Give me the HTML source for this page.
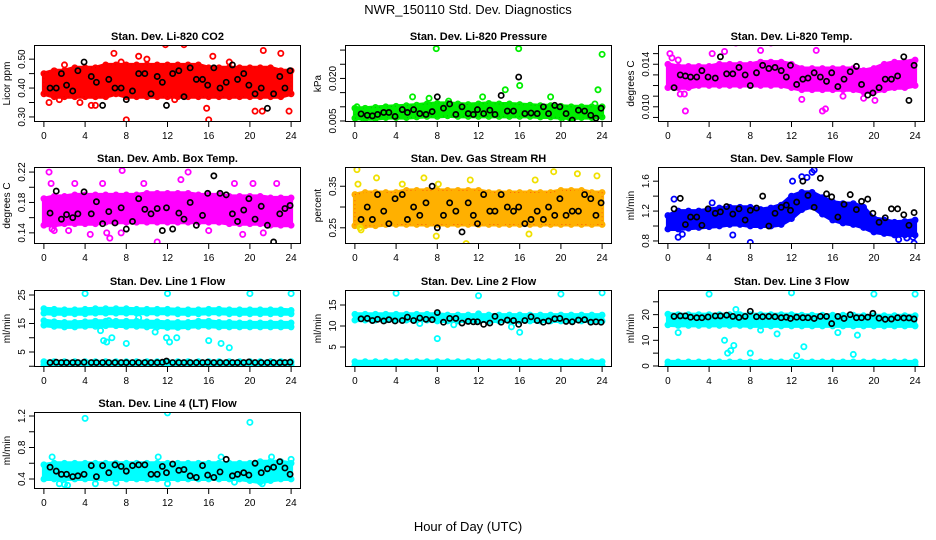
<!DOCTYPE html>
<html><head><meta charset="utf-8">
<style>
html,body{margin:0;padding:0;background:#fff;}
svg{display:block;font-family:"Liberation Sans",Arial,sans-serif;}
</style></head>
<body>
<svg id="chart" width="936" height="540" viewBox="0 0 936 540">
<text x="468" y="14" text-anchor="middle" font-size="13">NWR_150110  Std. Dev. Diagnostics</text>
<text x="468" y="531" text-anchor="middle" font-size="13">Hour of Day (UTC)</text>
</svg>
<script>
const blackHours = [0.6,1.2,1.7,2.2,2.8,3.3,3.9,4.6,5.1,5.7,6.3,6.9,7.5,8.0,8.6,9.2,9.8,10.4,11.0,11.5,11.9,12.5,13.1,13.6,14.2,14.8,15.4,15.9,16.5,17.1,17.7,18.3,18.8,19.4,19.9,20.5,21.1,21.7,22.3,22.9,23.4,23.9];
const bandHours = [0,1,2,3,4,5,6,7,8,9,10,11,12,13,14,15,16,17,18,19,20,21,22,23,24];
const xTicks = [0,4,8,12,16,20,24];

const co2Black = [.40,.40,.45,.41,.39,.46,.49,.44,.42,.34,.43,.40,.40,.36,.39,.45,.45,.38,.44,.42,.34,.45,.46,.37,.47,.43,.43,.41,.47,.40,.42,.48,.43,.45,.41,.38,.40,.33,.38,.44,.40,.46];
const co2Lo = [.38,.37,.37,.37,.37,.37,.37,.38,.37,.37,.37,.37,.37,.37,.37,.37,.37,.37,.37,.37,.37,.37,.37,.37,.38];
const co2Hi = [.45,.46,.46,.47,.47,.47,.48,.48,.48,.48,.48,.48,.48,.48,.48,.48,.47,.47,.47,.47,.47,.47,.47,.46,.46];
const co2OutX = [0.5,2,3.5,4.6,5,6.8,8,9.2,11.8,13.6,15.8,16,16.4,20.5,21.2,21.3,23,23.8,7.5,10,18,1.5,12.7];
const co2OutY = [.35,.48,.35,.34,.34,.52,.29,.51,.55,.55,.33,.29,.51,.32,.32,.53,.52,.32,.49,.50,.49,.36,.36];

const presBlack = [.0075,.0070,.0068,.0073,.0080,.0080,.0066,.0090,.0080,.0090,.0076,.0073,.0083,.0135,.0095,.0110,.0073,.0100,.0076,.0073,.0090,.0076,.0088,.0073,.0140,.0085,.0085,.0205,.0076,.0078,.0076,.0100,.0076,.0105,.0100,.0076,.0053,.0088,.0085,.0070,.0060,.0095];
const presLo = [.0060,.0058,.0058,.0062,.0062,.0062,.0064,.0066,.0066,.0068,.0066,.0066,.0066,.0066,.0066,.0066,.0066,.0066,.0064,.0064,.0062,.0060,.0062,.0062,.0064];
const presHi = [.0095,.0095,.0098,.0100,.0102,.0104,.0106,.0110,.0112,.0112,.0110,.0108,.0110,.0112,.0110,.0110,.0108,.0106,.0104,.0104,.0102,.0100,.0100,.0100,.0100];
const presOutX = [0.2,0.4,5.6,7.9,12.4,14.6,15.9,16,19,20.5,21,23.3,23.6,24,7.2,9.1];
const presOutY = [.0100,.0048,.0135,.0305,.0135,.0160,.0305,.0175,.0135,.0050,.0050,.0110,.0160,.0285,.0130,.0120];

const tempBlack = [.0118,.0130,.0129,.0128,.0128,.0134,.0128,.0127,.0147,.0131,.0131,.0137,.0130,.0120,.0132,.0139,.0136,.0137,.0134,.0128,.0139,.0121,.0126,.0127,.0132,.0128,.0124,.0132,.0119,.0126,.0133,.0138,.0121,.0111,.0113,.0118,.0126,.0126,.0129,.0147,.0106,.0139];
const tempLo = [.0118,.0118,.0118,.0120,.0120,.0120,.0120,.0120,.0120,.0120,.0120,.0120,.0118,.0116,.0116,.0116,.0116,.0116,.0116,.0114,.0114,.0116,.0118,.0118,.0120];
const tempHi = [.0140,.0138,.0138,.0138,.0138,.0140,.0140,.0140,.0140,.0142,.0142,.0142,.0140,.0136,.0136,.0136,.0136,.0136,.0136,.0134,.0136,.0140,.0142,.0142,.0144];
const tempOutX = [0.2,0.4,1.0,1.6,1.7,4.3,5.5,6.6,9.0,9.9,10.0,13.0,14.4,15.0,15.3,19.0,20.1,17.0,1.2];
const tempOutY = [.0150,.0146,.0144,.0112,.0096,.0150,.0152,.0160,.0153,.0165,.0160,.0107,.0153,.0096,.0098,.0108,.0106,.0110,.0112];

const ambBlack = [.166,.195,.158,.164,.160,.165,.194,.165,.181,.152,.168,.153,.173,.145,.155,.185,.171,.165,.172,.143,.173,.145,.166,.158,.180,.150,.163,.192,.215,.192,.190,.165,.155,.170,.185,.158,.175,.150,.128,.165,.172,.176];
const ambLo = [.150,.150,.152,.152,.152,.152,.154,.154,.154,.154,.154,.154,.154,.154,.154,.154,.154,.154,.152,.152,.152,.152,.150,.150,.150];
const ambHi = [.185,.188,.188,.190,.190,.190,.190,.190,.190,.190,.192,.192,.192,.192,.192,.190,.190,.190,.188,.188,.188,.188,.186,.186,.186];
const ambOutX = [0.5,0.7,0.8,1.0,3.0,4.5,5.7,6.4,7.6,9.7,11.0,13.3,14.0,16.0,18.5,20.3,22.6,2.4,6.1,7.5,19.3,21.3];
const ambOutY = [.220,.205,.145,.143,.205,.138,.205,.133,.222,.205,.128,.210,.220,.143,.205,.205,.205,.143,.140,.140,.138,.140];

const rhBlack = [.27,.30,.27,.33,.29,.26,.32,.33,.27,.30,.28,.31,.35,.25,.28,.31,.29,.24,.31,.28,.26,.33,.29,.29,.33,.30,.29,.30,.26,.27,.29,.27,.30,.28,.32,.28,.29,.29,.33,.32,.28,.31];
const rhLo = [.255,.255,.255,.258,.258,.258,.258,.258,.258,.258,.258,.258,.258,.258,.258,.258,.258,.258,.258,.258,.258,.258,.258,.258,.258];
const rhHi = [.330,.335,.335,.335,.335,.340,.340,.340,.340,.340,.340,.340,.340,.335,.335,.335,.335,.335,.335,.335,.340,.340,.340,.335,.335];
const rhOutX = [0.2,0.3,0.5,2.1,4.6,6.7,7.9,11.2,17.5,19.3,21.6,23.5,10.8,16.9,0.6,8.1];
const rhOutY = [.390,.355,.250,.370,.355,.370,.230,.365,.365,.385,.380,.375,.212,.235,.245,.355];

const flowBlack = [1.23,1.37,1.02,1.12,1.12,1.01,1.23,1.17,1.19,1.26,1.16,1.23,1.08,1.21,1.24,1.40,1.00,1.17,1.25,1.28,1.21,1.32,1.60,1.41,1.25,1.64,1.43,1.39,1.12,1.29,1.42,1.22,1.33,1.36,1.17,1.05,1.11,1.23,1.23,1.15,1.01,1.18];
const flowLo = [.96,.96,.97,.98,.99,1.00,1.02,1.02,1.00,1.00,1.00,1.02,1.10,1.22,1.26,1.16,1.08,1.04,1.02,.98,.92,.90,.88,.88,.88];
const flowHi = [1.14,1.20,1.20,1.20,1.22,1.24,1.25,1.25,1.25,1.22,1.24,1.28,1.40,1.45,1.45,1.38,1.32,1.30,1.30,1.25,1.10,1.08,1.05,1.06,1.08];
const flowOutX = [0.6,1.0,1.4,8.0,13.0,13.5,14.0,14.2,12.1,23.9,22.4,23.2,23.8,6.3,4.3];
const flowOutY = [1.36,0.85,0.89,0.78,1.66,1.65,1.72,1.75,1.60,0.77,0.82,0.84,0.85,0.88,1.31];

const l1Black = [1.3,1.4,1.3,1.3,1.3,1.3,1.4,1.3,1.3,1.3,1.3,1.3,1.3,1.3,1.3,1.3,1.3,1.3,1.3,1.4,1.8,1.3,1.3,1.3,1.3,1.3,1.3,1.4,1.3,1.3,1.3,1.3,1.3,1.3,1.5,1.3,1.3,1.3,1.3,1.3,1.3,1.4];
const l1TopLo = [18.6,18.4,18.4,18.4,18.4,18.6,18.6,18.6,18.6,18.6,18.6,18.6,18.6,18.4,18.4,18.4,18.6,18.6,18.4,18.4,18.4,18.4,18.4,18.4,18.4];
const l1TopHi = [20.2,20.0,19.8,19.8,20.0,20.2,20.2,20.2,20.2,20.0,20.0,20.0,20.0,19.8,19.8,19.8,20.0,20.0,19.8,19.8,19.8,19.8,19.8,19.8,19.6];
const l1MidLo = [14.4,14.0,13.8,13.8,14.0,14.0,14.2,14.2,14.0,14.0,13.8,13.8,13.6,13.6,13.8,14.0,14.0,13.8,13.8,13.8,13.8,13.8,13.8,13.8,13.8];
const l1MidHi = [16.0,15.6,15.4,15.4,15.6,15.8,15.8,15.8,15.8,15.8,15.6,15.6,15.4,15.4,15.4,15.8,15.8,15.4,15.4,15.2,15.2,15.2,15.2,15.2,15.2];
const l1LowLo = [0.5,0.5,0.5,0.5,0.5,0.5,0.5,0.5,0.5,0.5,0.5,0.5,0.5,0.5,0.5,0.5,0.5,0.5,0.5,0.5,0.5,0.5,0.5,0.5,0.5];
const l1LowHi = [1.6,1.6,1.6,1.6,1.6,1.6,1.6,1.6,1.6,1.6,1.6,1.6,1.6,1.6,1.6,1.6,1.6,1.6,1.6,1.6,1.6,1.6,1.6,1.6,1.6];
const l1OutX = [4,12,20,24,5.8,6.1,6.6,6.3,8,10.8,11.9,12.2,12.9,16,17.2,18,5.5,9.2];
const l1OutY = [25.5,25.5,25.5,25.5,9,8.5,10,16,8,12,10,8.5,10,9,8,6.5,12.5,17];

const l2Black = [11.7,11.8,11.3,11.6,11.2,11.5,11.2,11.3,12.1,11.3,11.9,11.6,11.5,13.2,10.9,11.8,11.8,10.7,11.1,11.0,11.0,10.4,10.7,12.3,10.9,11.4,11.3,10.4,11.3,12.2,11.3,10.9,11.2,11.7,11.8,11.1,11.0,11.4,11.5,10.9,11.0,10.9];
const l2TopLo = [11.4,11.4,11.4,11.4,11.4,11.4,11.4,11.4,11.2,11.2,11.2,11.2,11.2,11.2,11.2,11.2,11.2,11.2,11.2,11.2,11.2,11.2,11.2,11.2,11.2];
const l2TopHi = [12.8,12.8,12.8,12.8,12.8,12.8,12.8,12.8,12.8,12.6,12.6,12.6,12.6,12.6,12.6,12.6,12.6,12.6,12.6,12.6,12.6,12.6,12.6,12.6,12.6];
const l2LowLo = [0.6,0.6,0.6,0.6,0.6,0.6,0.6,0.6,0.6,0.6,0.6,0.6,0.6,0.6,0.6,0.6,0.6,0.6,0.6,0.6,0.6,0.6,0.6,0.6,0.6];
const l2LowHi = [1.5,1.5,1.5,1.5,1.5,1.5,1.5,1.5,1.5,1.5,1.5,1.5,1.5,1.5,1.5,1.5,1.5,1.5,1.5,1.5,1.5,1.5,1.5,1.5,1.5];
const l2OutX = [4,12,20,24,8,16,15.2,6.3,9.6,12];
const l2OutY = [17.8,17.2,17.6,17.9,7,8.5,9.8,10.6,10.3,12.9];

const l3Black = [19.3,19.5,19.5,19.0,18.8,18.8,19.1,19.5,19.5,19.8,19.3,18.9,19.3,21.3,19.2,19.2,19.3,19.2,18.8,19.0,18.5,19.0,18.8,18.8,18.5,19.3,19.3,16.5,19.3,18.5,20.0,18.8,18.8,19.0,20.5,18.6,18.2,18.3,18.8,18.7,18.7,18.3];
const l3TopLo = [16.0,15.8,15.8,15.8,15.8,15.8,15.8,15.8,15.6,15.6,15.6,15.6,15.6,15.6,15.6,15.6,15.6,15.6,15.6,15.6,15.6,15.6,15.6,15.6,15.6];
const l3TopHi = [20.2,20.0,20.0,20.0,20.0,20.0,20.0,20.0,20.0,20.0,20.0,20.0,20.0,19.8,19.8,19.8,19.8,19.8,19.8,19.6,19.6,19.6,19.6,19.6,19.6];
const l3LowLo = [0.4,0.4,0.4,0.4,0.4,0.4,0.4,0.4,0.4,0.4,0.4,0.4,0.4,0.4,0.4,0.4,0.4,0.4,0.4,0.4,0.4,0.4,0.4,0.4,0.4];
const l3LowHi = [1.6,1.6,1.6,1.6,1.6,1.6,1.6,1.6,1.6,1.6,1.6,1.6,1.6,1.6,1.6,1.6,1.6,1.6,1.6,1.6,1.6,1.6,1.6,1.6,1.6];
const l3OutX = [4,12,20,24,1,5.5,5.8,6.1,6.4,8,9,12.5,13.2,10.6,16.5,18.4,18,6.6];
const l3OutY = [28,28.5,28,28,13,10,5,6,8,5,14,4,7.5,12.5,13,12,4.5,22];

const l4Black = [.55,.50,.46,.46,.43,.44,.46,.57,.43,.57,.48,.58,.56,.50,.57,.58,.58,.46,.46,.56,.48,.59,.51,.52,.44,.42,.57,.45,.42,.49,.65,.44,.46,.48,.45,.60,.48,.53,.55,.62,.54,.46];
const l4Lo = [.40,.40,.40,.40,.40,.40,.40,.40,.40,.40,.40,.40,.40,.40,.40,.40,.40,.40,.40,.40,.38,.36,.38,.40,.40];
const l4Hi = [.58,.60,.60,.60,.60,.60,.60,.60,.60,.60,.60,.60,.60,.60,.60,.60,.60,.60,.60,.60,.60,.62,.62,.62,.60];
const l4OutX = [4,12,20,0.8,1.5,2,2.3,5,7,11.1,12,17.2,22.1,24,21.2,18.5];
const l4OutY = [1.17,1.24,1.12,.68,.34,.33,.32,.34,.35,.68,.34,.68,.68,.65,.34,.36];

const svg = document.getElementById('chart');
const NS = 'http://www.w3.org/2000/svg';
function mk(tag, attrs, parent){
  const e = document.createElementNS(NS, tag);
  for (const k in attrs) e.setAttribute(k, attrs[k]);
  (parent||svg).appendChild(e);
  return e;
}

const colLeft = [34, 345, 658];
const rowTop = [45, 167, 290, 412];
const W = 267, H = 77;
const XMIN = -0.96, XMAX = 24.96;

const panels = [
 {name:'co2', title:'Stan. Dev. Li-820 CO2', ylab:'Licor ppm', c:0, r:0, y0:0.2825, y1:0.549, col:'#ff0000', dot:'#cc0000',
  ticks:[.30,.35,.40,.45,.50], labels:['0.30','','0.40','','0.50'], bands:[[co2Lo,co2Hi]], ox:co2OutX, oy:co2OutY, black:co2Black},
 {name:'pressure', title:'Stan. Dev. Li-820 Pressure', ylab:'kPa', c:1, r:0, y0:0.00464, y1:0.03179, col:'#00ee00', dot:'#009900',
  ticks:[.005,.010,.015,.020,.025,.030], labels:['0.005','','','0.020','',''], bands:[[presLo,presHi]], ox:presOutX, oy:presOutY, black:presBlack},
 {name:'li820-temp', title:'Stan. Dev. Li-820 Temp.', ylab:'degrees C', c:2, r:0, y0:0.008571, y1:0.01581, col:'#ff00ff', dot:'#ff00ff',
  ticks:[.009,.010,.011,.012,.013,.014,.015], labels:['','0.010','','','','0.014',''], bands:[[tempLo,tempHi]], ox:tempOutX, oy:tempOutY, black:tempBlack},
 {name:'amb-box-temp', title:'Stan. Dev. Amb. Box Temp.', ylab:'degrees C', c:0, r:1, y0:0.12533, y1:0.22667, col:'#ff00ff', dot:'#ff00ff',
  ticks:[.14,.16,.18,.20,.22], labels:['0.14','','0.18','','0.22'], bands:[[ambLo,ambHi]], ox:ambOutX, oy:ambOutY, black:ambBlack},
 {name:'gas-stream-rh', title:'Stan. Dev. Gas Stream RH', ylab:'percent', c:1, r:1, y0:0.211, y1:0.3963, col:'#ffb000', dot:'#ff2000',
  ticks:[.20,.25,.30,.35], labels:['','0.25','','0.35'], bands:[[rhLo,rhHi]], ox:rhOutX, oy:rhOutY, black:rhBlack, outCol:'#f0e000'},
 {name:'sample-flow', title:'Stan. Dev. Sample Flow', ylab:'ml/min', c:2, r:1, y0:0.7593, y1:1.7898, col:'#0000ff', dot:'#0000ff',
  ticks:[0.8,1.0,1.2,1.4,1.6], labels:['0.8','','1.2','','1.6'], bands:[[flowLo,flowHi]], ox:flowOutX, oy:flowOutY, black:flowBlack},
 {name:'line1-flow', title:'Stan. Dev. Line 1 Flow', ylab:'ml/min', c:0, r:2, y0:-0.263, y1:26.75, col:'#00ffff', dot:'#00ffff',
  ticks:[0,5,10,15,20,25], labels:['','5','','15','','25'], bands:[[l1TopLo,l1TopHi],[l1MidLo,l1MidHi],[l1LowLo,l1LowHi]], ox:l1OutX, oy:l1OutY, black:l1Black},
 {name:'line2-flow', title:'Stan. Dev. Line 2 Flow', ylab:'ml/min', c:1, r:2, y0:0.238, y1:18.57, col:'#00ffff', dot:'#00ffff',
  ticks:[5,10,15], labels:['5','10','15'], bands:[[l2TopLo,l2TopHi],[l2LowLo,l2LowHi]], ox:l2OutX, oy:l2OutY, black:l2Black},
 {name:'line3-flow', title:'Stan. Dev. Line 3 Flow', ylab:'ml/min', c:2, r:2, y0:-0.4, y1:29.6, col:'#00ffff', dot:'#00ffff',
  ticks:[0,5,10,15,20,25], labels:['0','','10','','20',''], bands:[[l3TopLo,l3TopHi],[l3LowLo,l3LowHi]], ox:l3OutX, oy:l3OutY, black:l3Black},
 {name:'line4-flow', title:'Stan. Dev. Line 4 (LT) Flow', ylab:'ml/min', c:0, r:3, y0:0.273, y1:1.251, col:'#00ffff', dot:'#00ffff',
  ticks:[0.4,0.6,0.8,1.0,1.2], labels:['0.4','','0.8','','1.2'], bands:[[l4Lo,l4Hi]], ox:l4OutX, oy:l4OutY, black:l4Black}
];

panels.forEach(p => {
  const L = colLeft[p.c], T = rowTop[p.r];
  const xs = v => L + (v - XMIN) / (XMAX - XMIN) * W;
  const ys = v => T + H - (v - p.y0) / (p.y1 - p.y0) * H;
  const g = mk('g', {});
  
  
  const clipId = 'clip-' + p.name;
  const cp = mk('clipPath', {id: clipId}, g);
  mk('rect', {x:L, y:T, width:W, height:H}, cp);
  const plot = mk('g', {'clip-path':'url(#' + clipId + ')'}, g);

  p.bands.forEach((b, bi) => {
    let d = '';
    bandHours.forEach((h, i) => { d += (i ? 'L' : 'M') + xs(h).toFixed(1) + ',' + ys(b[1][i]).toFixed(1); });
    for (let i = bandHours.length - 1; i >= 0; i--) d += 'L' + xs(bandHours[i]).toFixed(1) + ',' + ys(b[0][i]).toFixed(1);
    const band = mk('path', {d: d + 'Z', fill: p.col, stroke: p.col, 'stroke-width': 4, 'stroke-linejoin':'round'}, plot);
    
    
    mk('path', {d: d + 'Z', fill: 'none', stroke: p.dot, 'stroke-width': 1, 'stroke-dasharray': '1 3', opacity: 0.6}, plot);
    // rough edge circles
    bandHours.forEach((h, i) => {
      [b[0][i], b[1][i]].forEach(v => {
        const c = mk('circle', {cx: xs(h), cy: ys(v), r: 2.6, fill: 'none', stroke: p.col, 'stroke-width': 1.6}, plot);
        
        
      });
    });
  });
  p.ox.forEach((x, i) => {
    const c = mk('circle', {cx: xs(x), cy: ys(p.oy[i]), r: 2.6, fill: 'none', stroke: p.outCol || p.col, 'stroke-width': 1.8}, plot);
    
    
  });
  blackHours.forEach((h, i) => {
    const c = mk('circle', {cx: xs(h), cy: ys(p.black[i]), r: 2.6, fill: 'none', stroke: '#000', 'stroke-width': 1.7}, plot);
    
    
  });

  const fr = mk('rect', {x: L + 0.5, y: T + 0.5, width: W - 1, height: H - 1, fill: 'none', stroke: '#000', 'stroke-width': 1}, g);
  
  

  const t = mk('text', {x: L + W / 2, y: T - 5, 'text-anchor': 'middle', 'font-size': 11, 'font-weight': 'bold'}, g);
  t.textContent = p.title;
  
  

  xTicks.forEach(v => {
    const x = xs(v);
    mk('line', {x1: x, x2: x, y1: T + H, y2: T + H + 5, stroke: '#000'}, g);
    const tl = mk('text', {x: x, y: T + H + 17, 'text-anchor': 'middle', 'font-size': 10}, g);
    tl.textContent = v;
    
    
  });
  p.ticks.forEach((v, i) => {
    const y = ys(v);
    if (y < T - 1 || y > T + H + 1) return;
    mk('line', {x1: L - 5, x2: L, y1: y, y2: y, stroke: '#000'}, g);
    if (p.labels[i]) {
      const tl = mk('text', {x: L - 9, y: y, 'text-anchor': 'middle', 'font-size': 10, transform: 'rotate(-90 ' + (L - 9) + ' ' + y + ')'}, g);
      tl.textContent = p.labels[i];
      
      
    }
  });
  const yl = mk('text', {x: L - 24, y: T + H / 2, 'text-anchor': 'middle', 'font-size': 10, transform: 'rotate(-90 ' + (L - 24) + ' ' + (T + H / 2) + ')'}, g);
  yl.textContent = p.ylab;
  
  
});
</script>
</body></html>
